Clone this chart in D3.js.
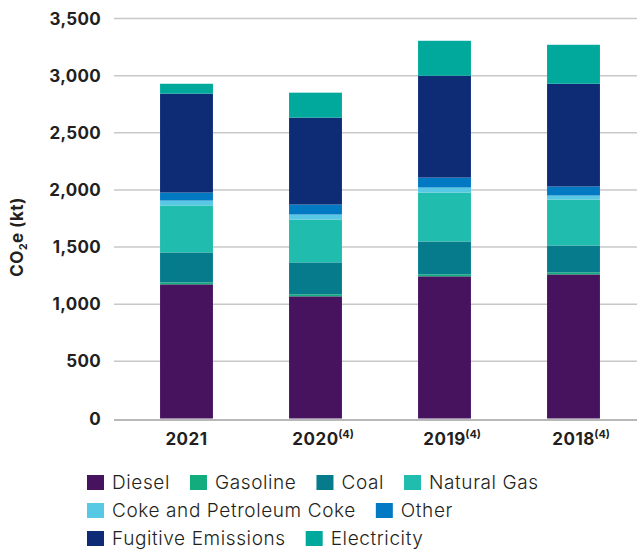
<!DOCTYPE html>
<html>
<head>
<meta charset="utf-8">
<script src="https://cdn.jsdelivr.net/npm/d3@7/dist/d3.min.js"></script>
<style>
  html, body { margin: 0; padding: 0; background: #fff; }
  svg { display: block; font-family: Inter, "Noto Sans", sans-serif; }
</style>
</head>
<body>
<svg id="chart" width="637" height="552"></svg>
<script>
// Emissions by source, kt CO2e
const years = ["2021", "2020", "2019", "2018"];
const yearNotes = ["", "(4)", "(4)", "(4)"];
const sources = ["Diesel", "Gasoline", "Coal", "Natural Gas",
  "Coke and Petroleum Coke", "Other", "Fugitive Emissions", "Electricity"];
const diesel      = [1174, 1069, 1244, 1261];
const gasoline    = [17, 17, 17, 18];
const coal        = [262, 280, 288, 235];
const naturalGas  = [411, 375, 428, 402];
const coke        = [43, 44, 44, 35];
const other       = [70, 87, 87, 79];
const fugitive    = [865, 760, 891, 899];
const electricity = [87, 219, 306, 341];
const yTicks = [0, 500, 1000, 1500, 2000, 2500, 3000, 3500];
const colors = ["#47135f", "#12ad7d", "#067b8c", "#20bcae",
  "#58c9e5", "#0279c3", "#0e2c76", "#00a99b"];

const seriesValues = [diesel, gasoline, coal, naturalGas, coke, other, fugitive, electricity];
const table = years.map((y, i) => {
  const row = { year: y };
  sources.forEach((s, k) => { row[s] = seriesValues[k][i]; });
  return row;
});

const svg = d3.select("#chart");
const x = d3.scaleBand().domain(years).range([122, 638]).paddingInner(0.59).paddingOuter(0.295);
const y = d3.scaleLinear().domain([0, 3500]).range([418.5, 18.5]);

// gridlines
svg.append("g").selectAll("line").data(yTicks.filter(d => d > 0)).join("line")
  .attr("x1", 114).attr("x2", 637)
  .attr("y1", d => y(d)).attr("y2", d => y(d))
  .attr("stroke", "#c8c8c8").attr("stroke-width", 1.5);

// stacked bars
const stack = d3.stack().keys(sources)(table);
const color = d3.scaleOrdinal().domain(sources).range(colors);
svg.append("g").selectAll("g").data(stack).join("g")
  .attr("fill", d => color(d.key))
  .selectAll("rect").data(d => d).join("rect")
  .attr("x", d => x(d.data.year))
  .attr("width", x.bandwidth())
  .attr("y", d => y(d[1]))
  .attr("height", d => y(d[0]) - y(d[1]));

// baseline
svg.append("line").attr("x1", 114).attr("x2", 637)
  .attr("y1", y(0) + 1.5).attr("y2", y(0) + 1.5)
  .attr("stroke", "#a0a0a0").attr("stroke-width", 1.5);

// y tick labels
svg.append("g").selectAll("text").data(yTicks).join("text")
  .attr("x", 101).attr("y", d => y(d) + 6)
  .attr("text-anchor", "end")
  .attr("font-size", 17).attr("font-weight", 700).attr("fill", "#231f20")
  .attr("letter-spacing", 0.3)
  .text(d => d3.format(",")(d));

// y axis title
const yt = svg.append("text")
  .attr("transform", "translate(23,237) rotate(-90)")
  .attr("text-anchor", "middle")
  .attr("font-size", 17).attr("font-weight", 700).attr("fill", "#231f20")
  .attr("letter-spacing", 0.4);
yt.append("tspan").text("CO");
yt.append("tspan").attr("font-size", 11).attr("dy", 4).text("2");
yt.append("tspan").attr("dy", -4).text("e (kt)");

// x labels with footnote markers
const xl = svg.append("g").selectAll("g").data(years).join("g")
  .attr("transform", d => `translate(${x(d) + x.bandwidth() / 2},445)`);
xl.append("text")
  .attr("text-anchor", "middle")
  .attr("font-size", 17).attr("font-weight", 700).attr("fill", "#231f20")
  .attr("letter-spacing", 0.5)
  .text(d => d);
xl.each(function(d, i) {
  if (!yearNotes[i]) return;
  const g = d3.select(this);
  const w = g.select("text").node().getComputedTextLength();
  g.append("text").attr("x", w / 2 - 0.5).attr("y", -7)
    .attr("font-size", 11).attr("font-weight", 700).attr("fill", "#231f20")
    .text(yearNotes[i]);
});

// legend
const legendRows = [[0, 1, 2, 3], [4, 5], [6, 7]];
legendRows.forEach((row, r) => {
  let cx = 87;
  const cy = 482 + r * 28;
  row.forEach(k => {
    svg.append("rect").attr("x", cx).attr("y", cy - 7).attr("width", 17).attr("height", 15)
      .attr("fill", colors[k]);
    const t = svg.append("text").attr("x", cx + 25).attr("y", cy + 7)
      .attr("font-size", 19).attr("font-weight", 300).attr("fill", "#231f20")
      .attr("letter-spacing", 0.6)
      .text(sources[k]);
    cx += 25 + t.node().getComputedTextLength() + 20;
  });
});
</script>
</body>
</html>
